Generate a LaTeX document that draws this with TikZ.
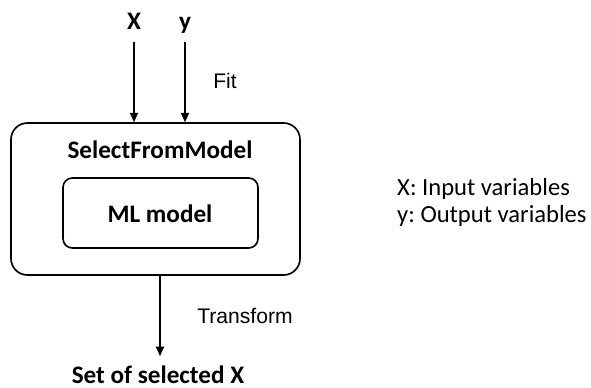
\documentclass[tikz,border=0pt]{standalone}
\usepackage{fontspec}
\setmainfont{Carlito}
\newfontfamily\arialfont{Liberation Sans}
\usetikzlibrary{arrows.meta,positioning}
\frenchspacing

\tikzset{
    lbl/.style={font=\bfseries\fontsize{21.5}{24}\selectfont, inner sep=0pt, anchor=base},
    note/.style={font=\arialfont\fontsize{18}{20}\selectfont, inner sep=0pt, anchor=base},
    legendtext/.style={font=\fontsize{21}{24}\selectfont, inner sep=0pt, anchor=base west},
    rbox/.style={draw, line width=1.4pt, rounded corners=#1},
    arr/.style={line width=1.1pt, -{Triangle[width=7pt,length=8pt]}}
}

\begin{document}
\begin{tikzpicture}[x=0.03cm, y=-0.03cm]
\useasboundingbox (0,0) rectangle (591,387);

% 外枠と内枠
\node[rbox=14pt, minimum width=289*0.03cm, minimum height=152*0.03cm] (outer) at (155.5,199) {};
\node[rbox=8pt, minimum width=195*0.03cm, minimum height=70*0.03cm] (ml) at (160.5,213) {};
\node[lbl] (mltext) at (160,222) {ML model};
\node[lbl] (sfm) at (160,158) {SelectFromModel};

% 入力
\node[lbl] (X) at (134,29) {X};
\node[lbl] (y) at (185,29) {y};
\coordinate (xin) at (134,42);
\coordinate (yin) at (185,42);
\draw[arr] (xin) -- (xin |- outer.north);
\draw[arr] (yin) -- (yin |- outer.north);
\node[note] (fit) at (225,88) {Fit};

% 出力
\node[lbl] (out) at (158,383) {Set of selected X};
\coordinate (tout) at (160,356);
\draw[arr] (tout |- outer.south) -- (tout);
\node[note] (tr) at (245,323) {Transform};

% 凡例
\node[legendtext] (leg1) at (397,195) {X: Input variables};
\node[legendtext] (leg2) at (397,222) {y: Output variables};
\end{tikzpicture}
\end{document}
